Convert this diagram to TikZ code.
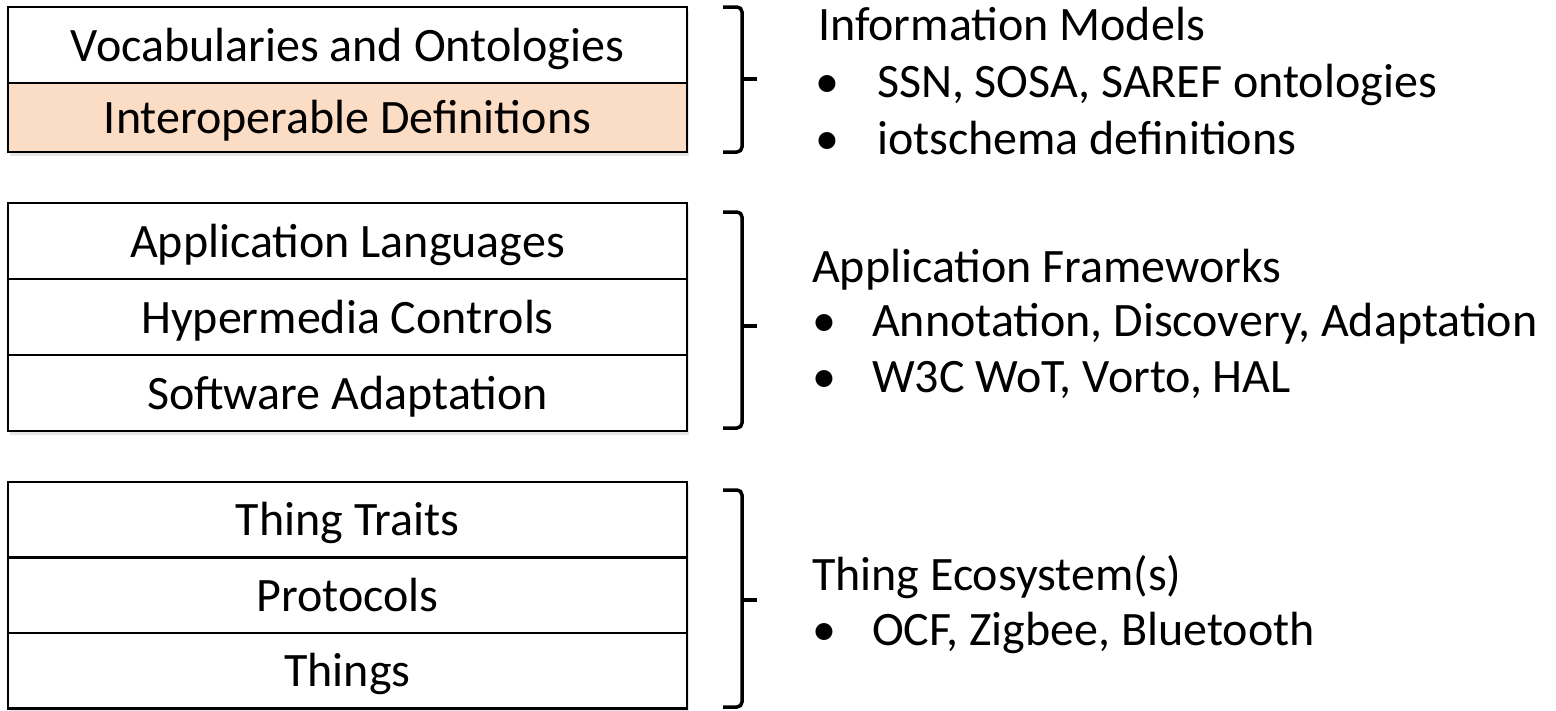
\documentclass[tikz,border=0pt]{standalone}
\usepackage{fontspec}
\setmainfont{Carlito}
\usetikzlibrary{calc,positioning,shadows}
\definecolor{peach}{HTML}{FBDCC4}
\tikzset{
	% ---- default
	every node/.style={font=\fontsize{48}{57}\selectfont, inner sep=0pt, outer sep=0pt},
	% ---- custom
	layer/.style={draw, line width=2.5pt, fill=white, minimum width=679pt, minimum height=76pt,
		text height=40pt, text depth=8pt,
		drop shadow={shadow xshift=2pt, shadow yshift=-4pt, opacity=0.2}},
	highlight/.style={layer, fill=peach},
	brace/.style={line width=3.5pt, rounded corners=5pt},
	heading/.style={anchor=base west},
	item/.style={anchor=base west},
}

\begin{document}
\begin{tikzpicture}[x=1pt, y=-1pt]

	\useasboundingbox (0,0) rectangle (1556,710);

% layers %{{{2

	\node[layer] (voc) at (347.5,45) {Vocabularies and Ontologies};
	\node[highlight, minimum height=69pt, below=0pt of voc] (idef) {Interoperable Definitions};

	\node[layer] (applang) at (347.5,241) {Application Languages};
	\node[layer, below=0pt of applang] (hypctrl) {Hypermedia Controls};
	\node[layer, below=0pt of hypctrl] (swadapt) {Software Adaptation};

	\node[layer, minimum height=75.5pt] (traits) at (347.5,519.75) {Thing Traits};
	\node[layer, minimum height=75.5pt, below=0pt of traits] (proto) {Protocols};
	\node[layer, minimum height=75.5pt, below=0pt of proto] (things) {Things};

% coordinates %{{{2

	\coordinate (infoTop) at (742,7);
	\coordinate (infoBot) at (742,152);
	\coordinate (infoTip) at (757,79);

	\coordinate (appTop) at (742,212);
	\coordinate (appBot) at (742,428);
	\coordinate (appTip) at (757,326);

	\coordinate (ecoTop) at (742,490);
	\coordinate (ecoBot) at (742,707);
	\coordinate (ecoTip) at (757,600);

% braces %{{{2

	\draw[brace] ($(infoTop)+(-19,0)$) -- (infoTop) -- (infoBot) -- ++(-19,0);
	\draw[brace] (infoTip) -- (infoTip -| infoTop);

	\draw[brace] ($(appTop)+(-19,0)$) -- (appTop) -- (appBot) -- ++(-19,0);
	\draw[brace] (appTip) -- (appTip -| appTop);

	\draw[brace] ($(ecoTop)+(-19,0)$) -- (ecoTop) -- (ecoBot) -- ++(-19,0);
	\draw[brace] (ecoTip) -- (ecoTip -| ecoTop);

% descriptions %{{{2

	\node[heading] (infoHead) at (818,40) {Information Models};
	\node[item] (infoDotA) at (815,97) {•};
	\node[item] (infoItemA) at (877,97) {SSN, SOSA, SAREF ontologies};
	\node[item] (infoDotB) at (815,154) {•};
	\node[item] (infoItemB) at (877,154) {iotschema definitions};

	\node[heading] (appHead) at (812,282) {Application Frameworks};
	\node[item] (appDotA) at (812,336) {•};
	\node[item] (appItemA) at (872,336) {Annotation, Discovery, Adaptation};
	\node[item] (appDotB) at (812,392) {•};
	\node[item] (appItemB) at (872,392) {W3C WoT, Vorto, HAL};

	\node[heading] (ecoHead) at (812,590) {Thing Ecosystem(s)};
	\node[item] (ecoDotA) at (812,645) {•};
	\node[item] (ecoItemA) at (872,645) {OCF, Zigbee, Bluetooth};

% closing %{{{2

\end{tikzpicture}
\end{document}
